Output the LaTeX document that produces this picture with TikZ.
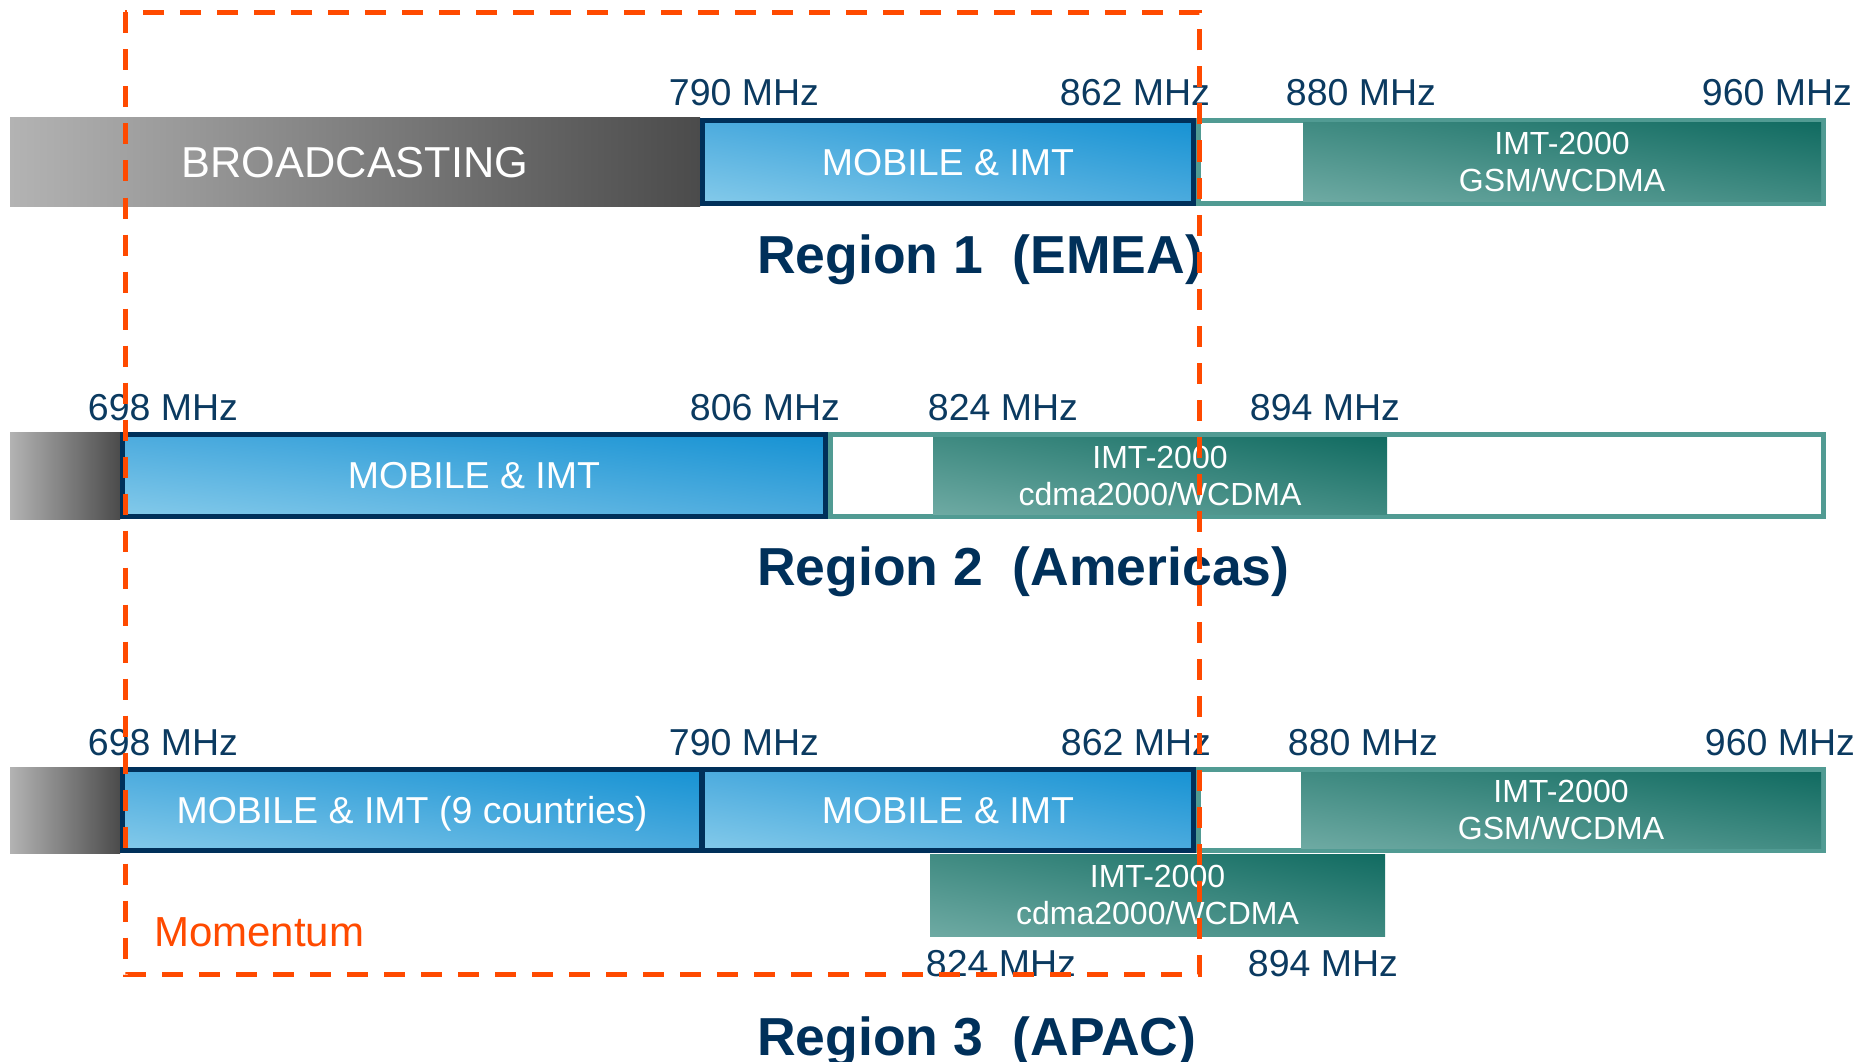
\documentclass[tikz,border=0pt]{standalone}
\usepackage{fontspec}
\setmainfont{Liberation Sans}
\usetikzlibrary{shadings}
\definecolor{navy}{HTML}{00305A}
\definecolor{labeltxt}{HTML}{0B3A60}
\definecolor{blueL}{HTML}{84CAEA}
\definecolor{blueD}{HTML}{1692D3}
\definecolor{blueM}{HTML}{4CABDE}
\definecolor{tealL}{HTML}{6EAAA3}
\definecolor{tealD}{HTML}{116B61}
\definecolor{tealM}{HTML}{408B82}
\definecolor{tealO}{HTML}{519B93}
\definecolor{greyL}{HTML}{B3B3B3}
\definecolor{greyM}{HTML}{999999}
\definecolor{greyD}{HTML}{4B4B4B}
\definecolor{orng}{HTML}{FF4A00}
\tikzset{
  freq/.style={anchor=base, text=labeltxt, font=\fontsize{37.5}{45}\selectfont, inner sep=0pt},
  regiontitle/.style={anchor=base west, text=navy, font=\bfseries\fontsize{53.5}{60}\selectfont, inner sep=0pt},
  bluebox/.style={draw=navy, line width=5pt, upper left=blueM, upper right=blueD,
    lower left=blueL, lower right=blueM, text=white, font=\fontsize{37.5}{45}\selectfont,
    inner sep=0pt, outer sep=0pt, text height=26.9pt, text depth=0pt},
  tealfill/.style={draw=none, upper left=tealM, upper right=tealD, lower left=tealL,
    lower right=tealM, text=white, align=center, font=\fontsize{32}{37}\selectfont,
    inner sep=0pt, outer sep=0pt},
  tealframe/.style={draw=tealO, line width=5pt, fill=white, inner sep=0pt, outer sep=0pt},
  greybar/.style={draw=none, left color=greyL, right color=greyD, inner sep=0pt, outer sep=0pt},
  momentumline/.style={draw=orng, line width=5pt, dash pattern=on 21pt off 16pt},
}
\begin{document}
\begin{tikzpicture}[x=1pt,y=-1pt]
\useasboundingbox (0,0) rectangle (1872,1062);
\fill[white] (0,0) rectangle (1872,1062);

% ---------------- Region 1 ----------------
\node[greybar, left color=greyL, middle color=greyM, right color=greyD,
  minimum width=690pt, minimum height=88pt, text=white,
  font=\fontsize{43.3}{50}\selectfont, text height=31pt, text depth=0pt] (bc1) at (355,162) {BROADCASTING};
\node[tealframe, minimum width=625pt, minimum height=83pt] (tf1) at (1511,162) {};
\node[tealfill, minimum width=518pt, minimum height=78pt] (tg1) at (1562,162) {IMT-2000\\GSM/WCDMA};
\node[bluebox, minimum width=491pt, minimum height=83pt] (mb1) at (948,162) {MOBILE \& IMT};

\node[freq] (f1a) at (744,106) {790 MHz};
\node[freq] (f1b) at (1135,106) {862 MHz};
\node[freq] (f1c) at (1361,106) {880 MHz};
\node[freq] (f1d) at (1777,106) {960 MHz};
\node[regiontitle] (r1) at (757,273) {Region 1\ \ (EMEA)};

% ---------------- Region 2 ----------------
\node[greybar, minimum width=110pt, minimum height=87pt] (gb2) at (65,475.5) {};
\node[tealframe, minimum width=993pt, minimum height=82pt] (tf2) at (1327,475.5) {};
\node[tealfill, minimum width=454pt, minimum height=77pt] (tg2) at (1160,475.5) {IMT-2000\\cdma2000/WCDMA};
\node[bluebox, minimum width=703pt, minimum height=82pt] (mb2) at (474,475.5) {MOBILE \& IMT};

\node[freq] (f2a) at (163,420) {698 MHz};
\node[freq] (f2b) at (765,420) {806 MHz};
\node[freq] (f2c) at (1003,420) {824 MHz};
\node[freq] (f2d) at (1325,420) {894 MHz};
\node[regiontitle] (r2) at (757,585) {Region 2\ \ (Americas)};

% ---------------- Region 3 ----------------
\node[greybar, minimum width=110pt, minimum height=86pt] (gb3) at (65,810) {};
\node[tealframe, minimum width=625pt, minimum height=81pt] (tf3) at (1511,810) {};
\node[tealfill, minimum width=520pt, minimum height=76pt] (tg3) at (1561,810) {IMT-2000\\GSM/WCDMA};
\node[bluebox, minimum width=579pt, minimum height=81pt] (mb3a) at (412,810) {MOBILE \& IMT (9 countries)};
\node[bluebox, minimum width=491pt, minimum height=81pt] (mb3b) at (948,810) {MOBILE \& IMT};
\node[tealfill, minimum width=455pt, minimum height=82pt] (tc3) at (1157.5,895) {IMT-2000\\cdma2000/WCDMA};

\node[freq] (f3a) at (163,755) {698 MHz};
\node[freq] (f3b) at (744,755) {790 MHz};
\node[freq] (f3c) at (1136,755) {862 MHz};
\node[freq] (f3d) at (1363,755) {880 MHz};
\node[freq] (f3e) at (1780,755) {960 MHz};
\node[freq] (f3f) at (1001,976) {824 MHz};
\node[freq] (f3g) at (1323,976) {894 MHz};
\node[regiontitle] (r3) at (757,1055) {Region 3\ \ (APAC)};

% ---------------- Momentum frame ----------------
\coordinate (mtl) at (125,12.5);
\coordinate (mbr) at (1199,974.5);
\draw[momentumline] (mtl) rectangle (mbr);
\node[anchor=base west, text=orng, font=\fontsize{42}{48}\selectfont, inner sep=0pt] (mom) at (154,946) {Momentum};
\end{tikzpicture}
\end{document}
